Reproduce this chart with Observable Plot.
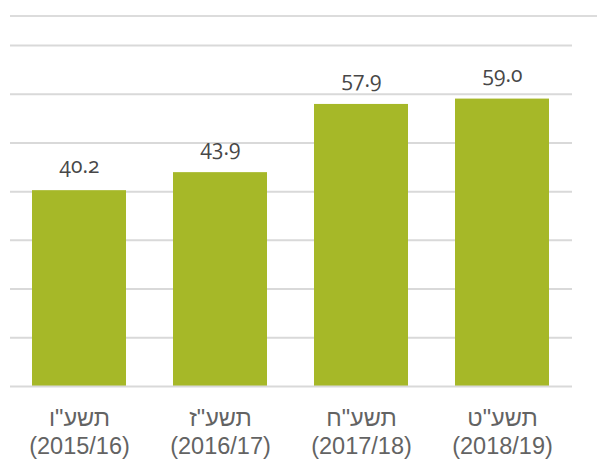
<!DOCTYPE html>
<html><head><meta charset="utf-8">
<script src="https://cdn.jsdelivr.net/npm/d3@7"></script>
<script src="https://cdn.jsdelivr.net/npm/@observablehq/plot@0.6"></script>
<style>
body{margin:0;background:#fff;}
#wrap{position:relative;width:597px;height:466px;}
#topline{position:absolute;top:15px;left:10px;right:0;border-top:2px solid #dcdcdc;}
.val{font-family:"Open Sans",sans-serif;font-feature-settings:"onum" 1;font-variant-numeric:oldstyle-nums;}
.cat{font-family:"Liberation Sans",Arial,sans-serif;font-weight:normal;}
</style>
</head><body>
<div id="wrap"><div id="topline"></div></div>
<script>
const years = ["תשע\"ו", "תשע\"ז", "תשע\"ח", "תשע\"ט"];
const periods = ["(2015/16)", "(2016/17)", "(2017/18)", "(2018/19)"];
const values = [40.2, 43.9, 57.9, 59.0];
const valueLabels = ["40.2", "43.9", "57.9", "59.0"];
const gridTicks = [10, 20, 30, 40, 50, 60, 70];

const data = years.map((y, i) => ({key: i, year: y, period: periods[i], value: values[i], label: valueLabels[i]}));

const chart = Plot.plot({
  width: 597,
  height: 466,
  marginLeft: 10,
  marginRight: 25,
  marginTop: 45,
  marginBottom: 80,
  x: {domain: data.map(d => d.key), paddingInner: 0.333, paddingOuter: 0.156, axis: null},
  y: {domain: [0, 70], axis: null},
  marks: [
    Plot.ruleY(gridTicks, {stroke: "#d9d9d9", strokeWidth: 2}),
    Plot.barY(data, {x: "key", y: "value", fill: "#a6b828"}),
    Plot.ruleY([0], {stroke: "#d9d9d9", strokeWidth: 2}),
    Plot.text(data, {x: "key", y: "value", text: "label", dy: -24, fontSize: 21, fill: "#474747", className: "val"}),
    Plot.text(data, {x: "key", y: 0, text: d => d.year + "\n" + d.period, dy: 45, fontSize: 23.5, lineHeight: 1.19, fill: "#636363", className: "cat"})
  ],
  style: {background: "#fff", overflow: "visible"}
});
document.getElementById("wrap").appendChild(chart);
</script>
</body></html>
